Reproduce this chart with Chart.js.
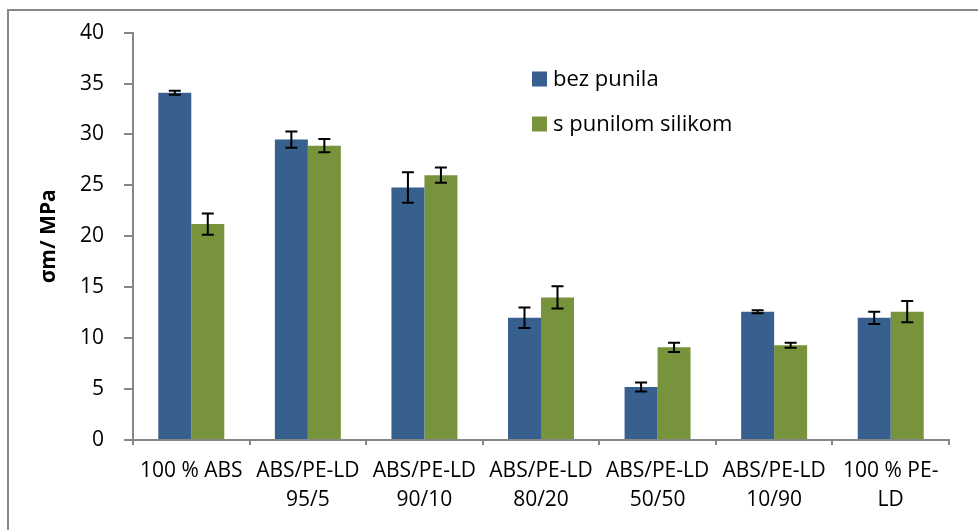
<!DOCTYPE html>
<html lang="hr">
<head>
<meta charset="UTF-8">
<title>σm / MPa</title>
<script src="https://cdn.jsdelivr.net/npm/chart.js"></script>
<style>
    body { margin: 0; background: #fff; overflow: hidden; }
    .wrap { position: relative; width: 978px; height: 530px; }
    .frame {
        position: absolute; left: 7px; top: 9px;
        width: 1000px; height: 600px;
        border: 2px solid #878787;
    }
    canvas { position: absolute; left: 0; top: 0; }
</style>
</head>
<body>
<div class="wrap">
    <div class="frame"></div>
    <canvas id="chart" width="978" height="530"></canvas>
</div>
<script>
// categories and values
const categories = [
    ['100 % ABS'],
    ['ABS/PE-LD', '95/5'],
    ['ABS/PE-LD', '90/10'],
    ['ABS/PE-LD', '80/20'],
    ['ABS/PE-LD', '50/50'],
    ['ABS/PE-LD', '10/90'],
    ['100 % PE-', 'LD']
];
const seriesNames = ['bez punila', 's punilom silikom'];
const bezPunila = [34.1, 29.5, 24.8, 12.0, 5.2, 12.6, 12.0];
const bezPunilaErr = [0.2, 0.8, 1.5, 1.0, 0.45, 0.15, 0.6];
const sPunilom = [21.2, 28.9, 26.0, 14.0, 9.1, 9.3, 12.6];
const sPunilomErr = [1.05, 0.65, 0.75, 1.1, 0.45, 0.25, 1.05];
const yTicks = [0, 5, 10, 15, 20, 25, 30, 35, 40];

const FONT = "'Open Sans', 'Liberation Sans', sans-serif";
const AXIS = '#868686';

// error bars, drawn with the y scale
const errorBars = {
    id: 'errorBars',
    afterDatasetsDraw(chart) {
        const ctx = chart.ctx;
        const y = chart.scales.y;
        ctx.save();
        ctx.strokeStyle = '#000';
        ctx.lineWidth = 2;
        chart.data.datasets.forEach((ds, di) => {
            const meta = chart.getDatasetMeta(di);
            meta.data.forEach((bar, i) => {
                const v = ds.data[i], e = ds.errors[i];
                const top = y.getPixelForValue(v + e);
                const bot = y.getPixelForValue(v - e);
                ctx.beginPath();
                ctx.moveTo(bar.x, top); ctx.lineTo(bar.x, bot);
                ctx.moveTo(bar.x - 6, top); ctx.lineTo(bar.x + 6, top);
                ctx.moveTo(bar.x - 6, bot); ctx.lineTo(bar.x + 6, bot);
                ctx.stroke();
            });
        });
        ctx.restore();
    }
};

// legend inside the plot area
const innerLegend = {
    id: 'innerLegend',
    afterDraw(chart) {
        const ctx = chart.ctx;
        ctx.save();
        ctx.font = '22px ' + FONT;
        ctx.textBaseline = 'middle';
        chart.data.datasets.forEach((ds, i) => {
            const yy = 79 + i * 45;
            ctx.fillStyle = ds.backgroundColor;
            ctx.fillRect(532, yy - 7.5, 15, 15);
            ctx.fillStyle = '#000';
            ctx.fillText(ds.label, 553, yy + 1);
        });
        ctx.restore();
    }
};

new Chart(document.getElementById('chart').getContext('2d'), {
    type: 'bar',
    data: {
        labels: categories,
        datasets: [{
            label: seriesNames[0],
            data: bezPunila,
            errors: bezPunilaErr,
            backgroundColor: '#37608f'
        }, {
            label: seriesNames[1],
            data: sPunilom,
            errors: sPunilomErr,
            backgroundColor: '#77933c'
        }]
    },
    options: {
        responsive: false,
        animation: false,
        categoryPercentage: 0.566,
        barPercentage: 1.0,
        layout: { padding: { left: 0, top: 32, right: 29, bottom: 0 } },
        plugins: {
            legend: { display: false },
            tooltip: { enabled: false }
        },
        scales: {
            x: {
                afterFit(scale) { scale.height = 90; },
                grid: {
                    display: true,
                    drawOnChartArea: false,
                    offset: true,
                    tickLength: 5,
                    color: AXIS,
                    lineWidth: 2
                },
                border: { color: AXIS, width: 2 },
                ticks: {
                    color: '#000',
                    padding: 12,
                    maxRotation: 0,
                    autoSkip: false,
                    font: { family: FONT, size: 21, lineHeight: 1.35 }
                }
            },
            y: {
                min: 0,
                max: 40,
                afterFit(scale) { scale.width = 133; },
                afterBuildTicks(scale) { scale.ticks = yTicks.map(v => ({ value: v })); },
                grid: {
                    display: true,
                    drawOnChartArea: false,
                    tickLength: 9,
                    color: AXIS,
                    lineWidth: 2
                },
                border: { color: AXIS, width: 2 },
                ticks: {
                    color: '#000',
                    padding: 20,
                    font: { family: FONT, size: 21 }
                },
                title: {
                    display: true,
                    text: 'σm/ MPa',
                    color: '#000',
                    padding: { top: 36, bottom: 0 },
                    font: { family: FONT, size: 21, weight: 'bold' }
                }
            }
        }
    },
    plugins: [errorBars, innerLegend]
});
</script>
</body>
</html>
